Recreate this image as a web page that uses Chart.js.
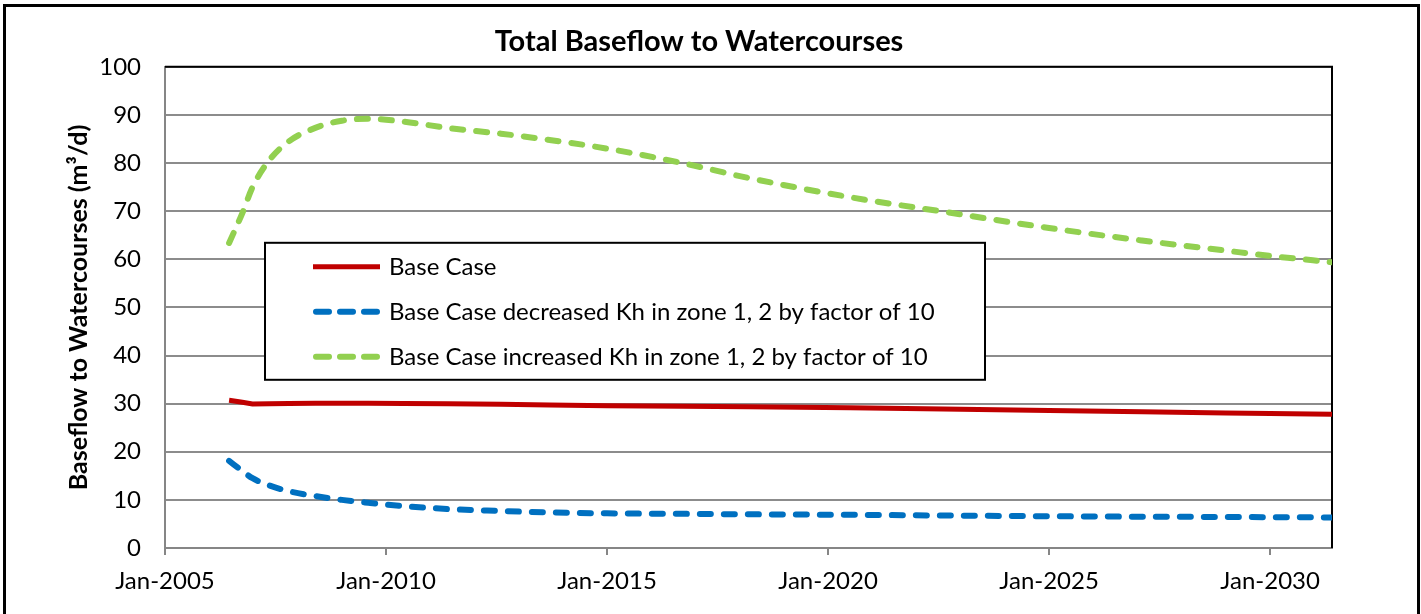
<!DOCTYPE html>
<html>
<head>
<meta charset="utf-8">
<title>Total Baseflow to Watercourses</title>
<script src="https://cdn.jsdelivr.net/npm/chart.js@4.4.1/dist/chart.umd.min.js"></script>
<style>
    html, body { margin: 0; padding: 0; background: #fff; overflow: hidden; }
    #chart { position: absolute; left: 0; top: 0; }
    #frame {
        position: absolute; left: 3px; top: 4px;
        width: 1411px; height: 700px;
        border: 3px solid #000; pointer-events: none;
    }
</style>
</head>
<body>
<canvas id="chart" width="1421" height="614"></canvas>
<div id="frame"></div>
<script>
// Datos (anos decimales)
const years = [2006.45, 2006.75, 2006.98, 2007.36, 2007.8, 2008.4, 2009.0, 2009.6, 2010.4, 2011.4,
               2012.6, 2013.7, 2015.0, 2016.7, 2018.2, 2020.5, 2022.6, 2025.0, 2027.1, 2029.0,
               2030.0, 2031.4];

const baseCase = [30.7, 30.3, 29.95, 30.0, 30.05, 30.1, 30.1, 30.1, 30.05, 30.0,
                  29.85, 29.7, 29.55, 29.45, 29.35, 29.15, 28.9, 28.55, 28.3, 28.05,
                  27.95, 27.8];

const decreasedKh = [18.1, 16.0, 14.5, 13.0, 11.8, 10.8, 10.0, 9.4, 8.7, 8.1,
                     7.7, 7.4, 7.2, 7.1, 7.0, 6.9, 6.75, 6.6, 6.5, 6.45,
                     6.4, 6.35];

const increasedKh = [63.4, 69.6, 75.0, 80.6, 84.5, 87.3, 88.8, 89.2, 88.6, 87.3,
                     86.1, 84.8, 83.0, 80.0, 76.9, 72.9, 69.9, 66.5, 63.9, 61.8,
                     60.7, 59.4];

const seriesLabels = [
    "Base Case",
    "Base Case decreased Kh in zone 1, 2 by factor of 10",
    "Base Case increased Kh in zone 1, 2 by factor of 10"
];

const xTicks = [2005, 2010, 2015, 2020, 2025, 2030];
const xMin = 2005;
const xMax = 2031.4;

const FONT = "Lato, 'Open Sans', sans-serif";

function puntos(ys) {
    return years.map((x, i) => ({ x: x, y: ys[i] }));
}

// Borde del area de trazado: arriba y derecha en negro
const plotBorder = {
    id: "plotBorder",
    beforeDatasetsDraw(chart) {
        const { ctx, chartArea: a } = chart;
        ctx.save();
        ctx.strokeStyle = "#000";
        ctx.lineWidth = 2;
        ctx.beginPath();
        ctx.moveTo(a.left, a.top);
        ctx.lineTo(a.right, a.top);
        ctx.lineTo(a.right, a.bottom);
        ctx.stroke();
        ctx.restore();
    }
};

// Leyenda dentro del grafico con recuadro
const legendBox = {
    id: "legendBox",
    afterDraw(chart) {
        const { ctx, chartArea: a } = chart;
        const left = a.left + 100;
        const top = a.top + 176;
        const w = 720, h = 137;

        ctx.save();
        ctx.fillStyle = "#fff";
        ctx.fillRect(left, top, w, h);
        ctx.strokeStyle = "#000";
        ctx.lineWidth = 2;
        ctx.strokeRect(left, top, w, h);

        ctx.font = "24px " + FONT;
        ctx.textBaseline = "middle";
        chart.data.datasets.forEach((ds, i) => {
            const y = top + 24 + i * 45;
            const dashed = !!ds.borderDash;
            ctx.strokeStyle = ds.borderColor;
            ctx.lineWidth = ds.borderWidth;
            ctx.lineCap = dashed ? "round" : "butt";
            ctx.setLineDash(dashed ? [13, 11] : []);
            ctx.beginPath();
            ctx.moveTo(left + (dashed ? 51 : 48), y);
            ctx.lineTo(left + (dashed ? 112 : 115), y);
            ctx.stroke();
            ctx.setLineDash([]);
            ctx.fillStyle = "#000";
            ctx.fillText(ds.label, left + 124, y);
        });
        ctx.restore();
    }
};

new Chart(document.getElementById("chart"), {
    type: "line",
    data: {
        datasets: [
            {
                label: seriesLabels[0],
                data: puntos(baseCase),
                borderColor: "#C00000",
                borderWidth: 5,
                tension: 0,
                pointRadius: 0
            },
            {
                label: seriesLabels[1],
                data: puntos(decreasedKh),
                borderColor: "#0070C0",
                borderWidth: 6,
                borderDash: [11, 13],
                borderCapStyle: "round",
                cubicInterpolationMode: "monotone",
                pointRadius: 0
            },
            {
                label: seriesLabels[2],
                data: puntos(increasedKh),
                borderColor: "#92D050",
                borderWidth: 6,
                borderDash: [11, 13],
                borderCapStyle: "round",
                cubicInterpolationMode: "monotone",
                pointRadius: 0
            }
        ]
    },
    options: {
        responsive: false,
        animation: false,
        layout: { padding: { left: 66, right: 89, top: 0, bottom: 0 } },
        plugins: {
            legend: { display: false },
            tooltip: { enabled: false },
            title: {
                display: true,
                text: "Total Baseflow to Watercourses",
                color: "#000",
                font: { family: FONT, size: 29, weight: "bold", lineHeight: 1.2 },
                padding: { top: 24, bottom: 8 }
            }
        },
        scales: {
            x: {
                type: "linear",
                min: xMin,
                max: xMax,
                afterBuildTicks: s => { s.ticks = xTicks.map(v => ({ value: v })); },
                afterFit: s => { s.height = 66; },
                grid: { drawOnChartArea: false, drawTicks: true, tickLength: 7, color: "#868686", lineWidth: 2 },
                border: { color: "#868686", width: 2 },
                ticks: {
                    autoSkip: false,
                    maxRotation: 0,
                    padding: 12,
                    color: "#000",
                    font: { family: FONT, size: 24 },
                    callback: v => "Jan-" + v
                }
            },
            y: {
                min: 0,
                max: 100,
                afterFit: s => { s.width = 99; },
                grid: { color: "#8c8c8c", lineWidth: 2, drawTicks: false },
                border: { color: "#868686", width: 2 },
                ticks: {
                    stepSize: 10,
                    padding: 24,
                    color: "#000",
                    font: { family: FONT, size: 24 }
                },
                title: {
                    display: true,
                    text: "Baseflow to Watercourses (m³/d)",
                    color: "#000",
                    font: { family: FONT, size: 25, weight: "bold", lineHeight: 1 },
                    padding: { top: 0, bottom: 0 }
                }
            }
        }
    },
    plugins: [plotBorder, legendBox]
});
</script>
</body>
</html>
